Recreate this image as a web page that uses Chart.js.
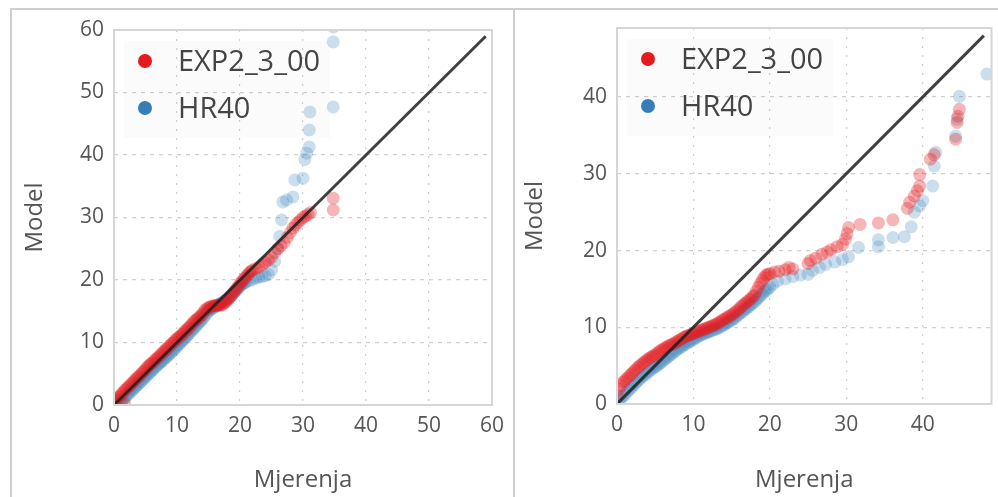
<!DOCTYPE html>
<html>
<head>
<meta charset="utf-8">
<script src="https://cdn.jsdelivr.net/npm/chart.js@4"></script>
<style>
    html, body { margin: 0; padding: 0; background: #fff; }
    body { width: 998px; height: 497px; position: relative; overflow: hidden; font-family: "Open Sans", sans-serif; }
    .frame { position: absolute; left: 10px; top: 8px; width: 990px; height: 495px; border-top: 2px solid #cfcfcf; border-left: 2px solid #cfcfcf; }
    .sep { position: absolute; left: 513px; top: 8px; width: 2px; height: 497px; background: #cfcfcf; }
    .panel { position: absolute; top: 0; height: 497px; }
</style>
</head>
<body>
<div class="frame"></div>
<div class="sep"></div>
<div class="panel" style="left:0;width:513px"><canvas id="leftChart"></canvas></div>
<div class="panel" style="left:515px;width:483px"><canvas id="rightChart"></canvas></div>
<script>
// series labels
var seriesNames = ['EXP2_3_00', 'HR40'];

// left panel: red = EXP2_3_00, blue = HR40 (measured vs model quantiles)
var leftRedX = [0.0, 0.25, 0.5, 0.75, 1.0, 1.25, 1.5, 1.7, 1.75, 2.0, 2.25, 2.5, 2.75, 3.0, 3.25, 3.5, 3.75, 4.0, 4.25, 4.5, 4.75,
    5.0, 5.25, 5.5, 5.75, 6.0, 6.25, 6.5, 6.75, 7.0, 7.25, 7.5, 7.75, 8.0, 8.25, 8.5, 8.75, 9.0, 9.25, 9.5, 9.75,
    10.0, 10.25, 10.5, 10.75, 11.0, 11.25, 11.5, 11.75, 12.0, 12.25, 12.5, 12.75, 13.0, 13.25, 13.5, 13.75, 14.0, 14.25, 14.5, 14.75,
    15.0, 15.25, 15.5, 15.75, 16.0, 16.25, 16.5, 16.75, 17.0, 17.25, 17.5, 17.75, 18.0, 18.25, 18.5, 18.75, 19.0, 19.25, 19.5, 19.75,
    20.0, 20.25, 20.5, 20.75, 21.0, 21.25, 21.5, 21.75, 22.0, 22.5, 23.0, 23.5, 24.0, 24.5, 25.0, 25.5, 26.0, 26.5, 27.0, 27.5,
    28.0, 28.4, 28.8, 29.2, 29.6, 30.0, 30.4, 30.8, 31.2, 34.8, 34.8];
var leftRedY = [0.6, 0.9, 1.0, 1.3, 1.5, 1.8, 2.1, 0.2, 2.4, 2.6, 2.9, 3.1, 3.4, 3.6, 3.9, 4.2, 4.4, 4.6, 4.9, 5.2, 5.4,
    5.7, 6.0, 6.3, 6.5, 6.7, 6.9, 7.2, 7.4, 7.6, 7.9, 8.1, 8.4, 8.6, 8.9, 9.1, 9.4, 9.6, 9.9, 10.1, 10.4,
    10.6, 10.8, 11.0, 11.3, 11.5, 11.8, 12.0, 12.3, 12.5, 12.8, 13.1, 13.4, 13.6, 13.8, 14.0, 14.3, 14.5, 14.9, 15.2, 15.4,
    15.6, 15.7, 15.8, 15.85, 15.9, 15.95, 16.0, 16.0, 16.0, 16.1, 16.3, 16.5, 16.8, 17.0, 17.3, 17.6, 18.0, 18.3, 18.7, 19.0,
    19.4, 19.7, 20.0, 20.3, 20.6, 20.9, 21.2, 21.4, 21.6, 21.8, 22.1, 22.5, 22.8, 23.2, 23.6, 24.4, 25.0, 25.5, 26.0, 26.8,
    27.6, 28.3, 28.8, 29.2, 29.6, 30.0, 30.2, 30.5, 30.8, 31.2, 33.1];
var leftBlueX = [0.25, 0.5, 0.75, 1.0, 1.25, 1.5, 1.75, 2.0, 2.25, 2.5, 2.75, 3.0, 3.25, 3.5, 3.75, 4.0, 4.25, 4.5, 4.75,
    5.0, 5.25, 5.5, 5.75, 6.0, 6.25, 6.5, 6.75, 7.0, 7.25, 7.5, 7.75, 8.0, 8.25, 8.5, 8.75, 9.0, 9.25, 9.5, 9.75,
    10.0, 10.25, 10.5, 10.75, 11.0, 11.25, 11.5, 11.75, 12.0, 12.25, 12.5, 12.75, 13.0, 13.25, 13.5, 13.75, 14.0, 14.25, 14.5, 14.75,
    15.0, 15.25, 15.5, 15.75, 16.0, 16.25, 16.5, 16.75, 17.0, 17.25, 17.5, 17.75, 18.0, 18.25, 18.5, 18.75, 19.0, 19.25, 19.5, 19.75,
    20.0, 20.25, 20.5, 20.75, 21.0, 21.5, 22.0, 22.5, 23.0, 23.5, 24.0, 24.5, 25.0, 25.5, 26.0, 26.3, 26.6, 26.8, 27.4, 28.4, 28.7,
    30.0, 30.3, 30.6, 31.0, 31.0, 31.1, 34.8, 34.8, 34.8];
var leftBlueY = [0.0, 0.1, 0.3, 0.5, 0.7, 1.0, 1.2, 1.5, 1.7, 2.0, 2.2, 2.5, 2.7, 3.0, 3.2, 3.5, 3.7, 4.0, 4.2,
    4.5, 4.7, 5.0, 5.2, 5.5, 5.7, 6.0, 6.2, 6.5, 6.7, 6.9, 7.1, 7.4, 7.6, 7.8, 8.1, 8.3, 8.6, 8.8, 9.1,
    9.4, 9.6, 9.9, 10.2, 10.4, 10.7, 11.0, 11.2, 11.5, 11.8, 12.1, 12.3, 12.6, 12.9, 13.2, 13.4, 13.7, 14.0, 14.4, 14.7,
    15.0, 15.2, 15.4, 15.5, 15.7, 15.8, 16.0, 16.1, 16.3, 16.5, 16.6, 16.8, 17.0, 17.2, 17.5, 17.7, 18.0, 18.2, 18.5, 18.7,
    19.0, 19.2, 19.4, 19.6, 19.7, 19.9, 20.1, 20.3, 20.45, 20.55, 20.7, 20.9, 21.6, 23.0, 25.0, 27.0, 29.6, 32.5, 32.8, 33.3, 36.0,
    36.3, 39.3, 40.3, 41.3, 44.0, 46.9, 47.7, 58.1, 60.5];
var leftLine = [0, 59];
var leftMax = 60;

// right panel
var rightRedX = [0.0, 0.25, 0.5, 0.75, 1.0, 1.25, 1.5, 1.75, 2.0, 2.25, 2.5, 2.75, 3.0, 3.25, 3.5, 3.75, 4.0, 4.25, 4.5, 4.75,
    5.0, 5.25, 5.5, 5.75, 6.0, 6.25, 6.5, 6.75, 7.0, 7.25, 7.5, 7.75, 8.0, 8.25, 8.5, 8.75, 9.0, 9.25, 9.5, 9.75,
    10.0, 10.25, 10.5, 10.75, 11.0, 11.25, 11.5, 11.75, 12.0, 12.25, 12.5, 12.75, 13.0, 13.25, 13.5, 13.75, 14.0, 14.25, 14.5, 14.75,
    15.0, 15.25, 15.5, 15.75, 16.0, 16.25, 16.5, 16.75, 17.0, 17.25, 17.5, 17.75, 18.0, 18.25, 18.5, 18.75, 19.0, 19.25, 19.5, 19.75,
    20.0, 20.6, 21.2, 22.0, 22.5, 23.0, 25.0, 25.3, 26.0, 26.8, 27.5, 28.0, 28.8, 29.5, 29.9, 30.1, 30.3, 31.8, 34.2, 36.1,
    38.0, 38.3, 38.9, 39.3, 39.6, 39.6, 41.0, 41.5, 44.3, 44.5, 44.6, 44.8];
var rightRedY = [1.2, 2.0, 2.4, 2.8, 3.0, 3.3, 3.5, 3.8, 4.0, 4.3, 4.5, 4.8, 5.0, 5.2, 5.4, 5.6, 5.8, 6.0, 6.1, 6.3,
    6.4, 6.6, 6.8, 7.0, 7.1, 7.3, 7.4, 7.6, 7.7, 7.8, 7.9, 8.1, 8.2, 8.4, 8.5, 8.7, 8.8, 8.9, 9.0, 9.1,
    9.2, 9.3, 9.4, 9.5, 9.6, 9.7, 9.8, 9.9, 10.0, 10.1, 10.2, 10.3, 10.4, 10.6, 10.7, 10.9, 11.0, 11.2, 11.3, 11.5,
    11.6, 11.8, 12.0, 12.2, 12.4, 12.7, 12.9, 13.1, 13.3, 13.5, 13.7, 14.0, 14.2, 14.7, 15.2, 15.7, 16.1, 16.5, 16.8, 16.9,
    17.0, 17.2, 17.3, 17.5, 17.8, 17.6, 18.3, 18.7, 19.0, 19.5, 19.8, 20.1, 20.5, 20.8, 21.5, 22.2, 23.0, 23.4, 23.6, 24.0,
    25.5, 26.3, 27.1, 27.8, 28.4, 29.9, 31.9, 32.5, 34.5, 36.7, 37.5, 38.4];
var rightBlueX = [0.0, 0.25, 0.5, 0.75, 1.0, 1.25, 1.5, 1.75, 2.0, 2.25, 2.5, 2.75, 3.0, 3.25, 3.5, 3.75, 4.0, 4.25, 4.5, 4.75,
    5.0, 5.25, 5.5, 5.75, 6.0, 6.25, 6.5, 6.75, 7.0, 7.25, 7.5, 7.75, 8.0, 8.25, 8.5, 8.75, 9.0, 9.25, 9.5, 9.75,
    10.0, 10.25, 10.5, 10.75, 11.0, 11.25, 11.5, 11.75, 12.0, 12.25, 12.5, 12.75, 13.0, 13.25, 13.5, 13.75, 14.0, 14.25, 14.5, 14.75,
    15.0, 15.25, 15.5, 15.75, 16.0, 16.25, 16.5, 16.75, 17.0, 17.25, 17.5, 17.75, 18.0, 18.25, 18.5, 18.75, 19.0, 19.25, 19.5, 19.75,
    20.0, 20.4, 21.0, 22.0, 23.0, 24.0, 25.0, 25.6, 26.5, 27.3, 28.5, 29.5, 30.3, 31.6, 34.2, 34.2, 36.1, 37.6, 38.5, 38.9,
    39.6, 40.0, 41.3, 41.5, 41.7, 44.3, 44.5, 44.8, 48.4];
var rightBlueY = [0.0, 0.4, 0.7, 1.0, 1.2, 1.5, 1.8, 2.0, 2.3, 2.5, 2.8, 3.0, 3.3, 3.5, 3.7, 3.9, 4.1, 4.3, 4.5, 4.7,
    4.8, 5.0, 5.2, 5.4, 5.6, 5.8, 6.0, 6.2, 6.4, 6.6, 6.8, 7.0, 7.2, 7.3, 7.5, 7.7, 7.8, 8.0, 8.1, 8.3,
    8.4, 8.6, 8.7, 8.9, 9.0, 9.1, 9.2, 9.3, 9.4, 9.5, 9.6, 9.7, 9.8, 9.9, 10.0, 10.2, 10.3, 10.5, 10.6, 10.8,
    10.9, 11.1, 11.3, 11.5, 11.7, 11.9, 12.1, 12.3, 12.5, 12.7, 12.9, 13.1, 13.3, 13.6, 13.8, 14.1, 14.3, 14.6, 14.8, 15.0,
    15.2, 15.6, 16.0, 16.3, 16.6, 16.8, 16.9, 17.4, 17.8, 18.2, 18.5, 18.8, 19.2, 20.4, 20.5, 21.4, 21.7, 21.8, 23.1, 25.0,
    25.8, 26.5, 28.4, 31.0, 32.8, 34.9, 37.1, 40.1, 43.0];
var rightLine = [0, 48];
var rightMax = 49;

var tickStep = 10;
var redColor = 'rgba(228, 26, 28, 0.32)';
var blueColor = 'rgba(55, 126, 184, 0.26)';
var redSolid = 'rgb(228, 26, 28)';
var blueSolid = 'rgb(55, 126, 184)';

function toPoints(xs, ys) {
    return xs.map(function (x, i) {
        return {x: x, y: ys[i]};
    });
}

var boxAndLegend = {
    id: 'boxAndLegend',
    beforeDatasetsDraw: function (chart) {
        var a = chart.chartArea, ctx = chart.ctx;
        ctx.save();
        ctx.fillStyle = 'rgba(0,0,0,0.014)';
        ctx.fillRect(a.left + 10, a.top + 11, 206, 97);
        ctx.restore();
    },
    afterDraw: function (chart) {
        var a = chart.chartArea, ctx = chart.ctx;
        ctx.save();
        ctx.strokeStyle = '#d6d6d6';
        ctx.lineWidth = 2;
        ctx.strokeRect(a.left, a.top, a.right - a.left, a.bottom - a.top);
        var cols = [redSolid, blueSolid];
        ctx.font = '29px "Open Sans"';
        ctx.textBaseline = 'middle';
        for (var i = 0; i < 2; i++) {
            var cy = a.top + 31 + i * 47;
            ctx.fillStyle = cols[i];
            ctx.beginPath();
            ctx.arc(a.left + 31, cy, 7, 0, Math.PI * 2);
            ctx.fill();
            ctx.fillStyle = '#444';
            ctx.fillText(seriesNames[i], a.left + 64, cy + 2);
        }
        ctx.restore();
    }
};

function makeChart(id, redX, redY, blueX, blueY, line, maxVal, layout) {
    var axisFont = {family: 'Open Sans', size: 21};
    var titleFont = {family: 'Open Sans', size: 24};
    function axis(isX) {
        return {
            type: 'linear',
            min: 0,
            max: maxVal,
            ticks: {stepSize: tickStep, color: '#555', font: axisFont, padding: isX ? 8 : 10},
            afterBuildTicks: function (scale) {
                scale.ticks = scale.ticks.filter(function (t) {
                    return t.value % tickStep === 0;
                });
            },
            afterFit: function (scale) {
                if (isX) scale.height = layout.xHeight;
                else scale.width = layout.yWidth;
            },
            grid: {color: '#d0d0d0', lineWidth: 1.2, drawTicks: false, tickLength: 0},
            border: {display: false, dash: isX ? [2, 7] : [4, 5]},
            title: {
                display: true,
                text: isX ? 'Mjerenja' : 'Model',
                color: '#555',
                font: titleFont,
                padding: isX ? {bottom: layout.xTitlePad, top: 0} : {top: layout.yTitlePad, bottom: 0}
            }
        };
    }
    return new Chart(document.getElementById(id), {
        type: 'scatter',
        data: {
            datasets: [{
                type: 'line',
                data: toPoints(line, line),
                borderColor: 'rgba(30,30,30,0.85)',
                borderWidth: 3,
                pointRadius: 0,
                fill: false,
                order: 0
            }, {
                label: seriesNames[0],
                data: toPoints(redX, redY),
                backgroundColor: redColor,
                borderWidth: 0,
                pointRadius: 6.5,
                order: 1
            }, {
                label: seriesNames[1],
                data: toPoints(blueX, blueY),
                backgroundColor: blueColor,
                borderWidth: 0,
                pointRadius: 6.5,
                order: 2
            }]
        },
        options: {
            responsive: true,
            maintainAspectRatio: false,
            animation: false,
            layout: {padding: {top: layout.top, right: layout.right, left: 0, bottom: 0}},
            plugins: {legend: {display: false}, tooltip: {enabled: false}},
            scales: {x: axis(true), y: axis(false)}
        },
        plugins: [boxAndLegend]
    });
}

document.addEventListener('DOMContentLoaded', function () {
    makeChart('leftChart', leftRedX, leftRedY, leftBlueX, leftBlueY, leftLine, leftMax,
        {top: 30, right: 21, yWidth: 114, xHeight: 92, yTitlePad: 21, xTitlePad: 2});
    makeChart('rightChart', rightRedX, rightRedY, rightBlueX, rightBlueY, rightLine, rightMax,
        {top: 28, right: 5, yWidth: 102, xHeight: 93, yTitlePad: 6, xTitlePad: 2});
});
</script>
</body>
</html>
